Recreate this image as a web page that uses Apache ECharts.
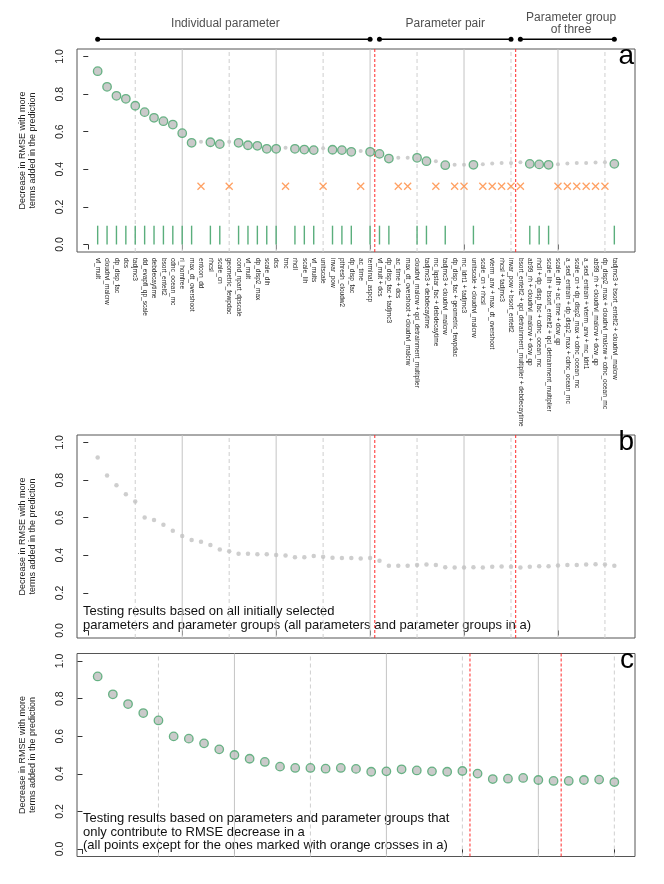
<!DOCTYPE html>
<html><head><meta charset="utf-8">
<script src="https://cdn.jsdelivr.net/npm/echarts@6/dist/echarts.min.js"></script>
<style>html,body{margin:0;padding:0;background:#fff}#c{width:664px;height:884px}</style>
</head><body><div id="c"></div>
<script>
// ---------- data ----------
const namesA = [
 'vf_mult','cloudrvl_malcrw','dp_disp_fac','dcs','tadjmc3','dd_evapfl_qp_scale','debdecaytime','bsort_entelt2','cdnc_ocean_mc','ri_homfree',
 'max_dt_overshoot','entcon_dd','rhcsl','scale_cn','geometric_fewpdac','cond_npart_dpscale','vf_mult','dp_disp2_max','scale_dih','dcs',
 'tmc','rhcll','scale_lih','vf_mults','unitscale','invar_pow','pthresh_cloudw2','dp_disp_fac','ac_time','terminal_aspcp',
 'vf_mult + dcs','dp_disp_fac + tadjmc3','ac_time + dcs','max_dt_overshoot + cloudrvl_malcrw','cloudrvl_malcrw + qci_detrainment_multiplier',
 'tadjmc3 + debdecaytime','mc_lqstar_fac + debdecaytime','tadjmc3 + cloudrvl_malcrw','dp_disp_fac + geometric_fewpdac','mc_ldrt1 + tadjmc3',
 'unitscale + cloudrvl_malcrw','scale_cn + rhcsl','vterm_anv + max_dt_overshoot','rhcsl + tadjmc3','invar_pow + bsort_entelt2',
 'bsort_entelt2 + qci_detrainment_multiplier + debdecaytime','ab99_rh + cloudrvl_malcrw + dcw_qp','rhcll + dp_disp_fac + cdnc_ocean_mc',
 'scale_lih + bsort_entelt2 + qci_detrainment_multiplier','scale_dih + ac_time + dcw_qp','a_sed_entrain + dp_disp2_max + cdnc_ocean_mc',
 'scale_cn + dp_disp2_max + cdnc_ocean_mc','a_sed_entrain + vterm_anv + mc_ldrt1','ab99_rh + cloudrvl_malcrw + dcw_qp',
 'dp_disp2_max + cloudrvl_malcrw + cdnc_ocean_mc','tadjmc3 + bsort_entelt2 + cloudrvl_malcrw'
];
const valsA = [0.922,0.839,0.791,0.775,0.738,0.704,0.674,0.656,0.638,0.592,
 0.541,0.546,0.544,0.534,0.546,0.541,0.528,0.525,0.509,0.509,
 0.514,0.509,0.505,0.502,0.512,0.504,0.502,0.493,0.498,0.493,
 0.482,0.457,0.461,0.461,0.461,0.443,0.443,0.422,0.424,0.424,
 0.424,0.427,0.431,0.433,0.434,0.438,0.429,0.426,0.424,0.427,
 0.431,0.433,0.434,0.436,0.438,0.429];
const crossA = [12,15,21,25,29,33,34,37,39,40,42,43,44,45,46,50,51,52,53,54,55];
const crossLevel = 0.31;
const barLevel = 0.1;
const valsB = [0.920,0.825,0.772,0.725,0.686,0.601,0.588,0.563,0.531,0.503,
 0.481,0.472,0.455,0.431,0.421,0.408,0.408,0.406,0.406,0.401,
 0.399,0.389,0.389,0.396,0.392,0.387,0.385,0.385,0.383,0.385,
 0.371,0.344,0.344,0.344,0.348,0.351,0.349,0.337,0.335,0.335,
 0.337,0.335,0.339,0.340,0.339,0.335,0.339,0.342,0.342,0.346,
 0.348,0.349,0.351,0.353,0.351,0.344];
const valsC = [0.918,0.823,0.771,0.723,0.684,0.599,0.587,0.562,0.530,0.500,
 0.480,0.463,0.438,0.431,0.431,0.427,0.431,0.426,0.411,0.413,
 0.424,0.418,0.413,0.411,0.415,0.401,0.372,0.374,0.378,0.367,
 0.362,0.362,0.367,0.369,0.356];
const groupNames = ['Individual parameter','Parameter pair','Parameter group\nof three'];
const groupStart = [1,31,46];
const groupEnd = [30,45,56];
const groupLabelX = [14.6,38,51.4];
const yTicks = [0,0.2,0.4,0.6,0.8,1.0];
const xTicksAB = [0,10,20,30,40,50];
const xTicksC = [0,5,10,15,20,25,30,35];
const solidAB = [10,20,30,40,50], dashedAB = [5,15,25,35,45,55], redAB = [30.5,45.5];
const solidC = [10,20,30], dashedC = [5,15,25,35], redC = [25.5,31.5];
const textB = 'Testing results based on all initially selected\nparameters and parameter groups (all parameters and parameter groups in a)';
const textC = 'Testing results based on parameters and parameter groups that\nonly contribute to RMSE decrease in a\n(all points except for the ones marked with orange crosses in a)';
const yTitle = 'Decrease in RMSE with more\nterms added in the prediction';

// ---------- styling / building ----------
const FONT = '"Liberation Sans", Arial, Helvetica, sans-serif';
const GREEN = '#47a56b', GRAYFILL = '#bdbdbd', ORANGE = '#ff8a3d';
const YMIN = -0.04, YMAX = 1.04;
const idxA = namesA.map((_, i) => i + 1);
const isCross = i => crossA.indexOf(i) >= 0;

const STY = {
  dashed: {color: '#cfcfcf', type: [4, 3], width: 1},
  solid: {color: '#c4c4c4', type: 'solid', width: 1},
  red: {color: '#ff2a2a', type: [3, 2], width: 1}
};
// vertical reference lines drawn as broken line series through the axis range
function vSeries(ax, values, kind, z) {
  const d = [];
  values.forEach(v => { d.push([v, YMIN], [v, YMAX], [v, '-']); });
  return {type: 'line', xAxisIndex: ax, yAxisIndex: ax, data: d, z: z, silent: true,
    showSymbol: false, symbol: 'none', connectNulls: false,
    lineStyle: STY[kind], itemStyle: {color: STY[kind].color}, emphasis: {disabled: true}};
}
const grids = [
  {left: 77, width: 558, top: 49, height: 203},
  {left: 77, width: 558, top: 435, height: 203},
  {left: 77, width: 558, top: 653.5, height: 203},
  {left: 77, width: 558, top: 0, height: 49}
].map((g, i) => Object.assign({show: i < 3, borderColor: '#555', borderWidth: 1, backgroundColor: 'transparent'}, g));

function xAx(gi, min, max, ticks, labels) {
  return {type: 'value', gridIndex: gi, min: min, max: max, axisLine: {show: false}, splitLine: {show: false},
    axisTick: {show: true, customValues: ticks, length: 5, lineStyle: {color: '#333'}},
    axisLabel: labels ? {show: true, customValues: idxA, formatter: v => namesA[Math.round(v) - 1] || '',
      rotate: -90, fontSize: 6.5, fontFamily: FONT, color: '#222', margin: 6, hideOverlap: false} : {show: false}};
}
function yAx(gi) {
  return {type: 'value', gridIndex: gi, min: YMIN, max: YMAX, axisLine: {show: false}, splitLine: {show: false},
    axisTick: {show: true, customValues: yTicks, length: 5, lineStyle: {color: '#333'}},
    axisLabel: {show: true, customValues: yTicks, formatter: v => v.toFixed(1), rotate: 90, fontSize: 10.5,
      fontFamily: FONT, color: '#222', margin: 11},
    name: yTitle, nameLocation: 'middle', nameGap: 39, nameRotate: 90,
    nameTextStyle: {fontSize: 9, fontFamily: FONT, color: '#222', lineHeight: 10}};
}

const series = [];
[[0, solidAB, dashedAB, redAB], [1, solidAB, dashedAB, redAB], [2, solidC, dashedC, redC]].forEach(p => {
  series.push(vSeries(p[0], p[2], 'dashed', 1));
  series.push(vSeries(p[0], p[1], 'solid', 1));
  series.push(vSeries(p[0], p[3], 'red', 2));
});
series.push(
  {type: 'bar', xAxisIndex: 0, yAxisIndex: 0, barWidth: 1.4, z: 2,
    itemStyle: {color: '#5aae7c'},
    data: idxA.filter(i => !isCross(i)).map(i => [i, barLevel])},
  {type: 'scatter', xAxisIndex: 0, yAxisIndex: 0, z: 3, symbol: 'path://M0,0L10,10M10,0L0,10', symbolSize: 7,
    itemStyle: {color: 'rgba(0,0,0,0)', borderColor: ORANGE, borderWidth: 1.3},
    data: crossA.map(i => [i, crossLevel])},
  {type: 'scatter', xAxisIndex: 0, yAxisIndex: 0, z: 3, symbol: 'circle', symbolSize: 4,
    itemStyle: {color: '#c2c2c2'},
    data: idxA.filter(isCross).map(i => [i, valsA[i - 1]])},
  {type: 'scatter', xAxisIndex: 0, yAxisIndex: 0, z: 4, symbol: 'circle', symbolSize: 8.5,
    itemStyle: {color: GRAYFILL, borderColor: GREEN, borderWidth: 1.3},
    data: idxA.filter(i => !isCross(i)).map(i => [i, valsA[i - 1]])},
  {type: 'scatter', xAxisIndex: 1, yAxisIndex: 1, z: 3, symbol: 'circle', symbolSize: 4.5,
    itemStyle: {color: '#c2c2c2'},
    data: valsB.map((v, i) => [i + 1, v])},
  {type: 'scatter', xAxisIndex: 2, yAxisIndex: 2, z: 3, symbol: 'circle', symbolSize: 8.5,
    itemStyle: {color: GRAYFILL, borderColor: GREEN, borderWidth: 1.3},
    data: valsC.map((v, i) => [i + 1, v])}
);
groupNames.forEach((nm, k) => {
  series.push({type: 'line', xAxisIndex: 3, yAxisIndex: 3, z: 3, symbol: 'circle', symbolSize: 5,
    itemStyle: {color: '#000'}, lineStyle: {color: '#000', width: 1.4}, clip: false,
    data: [[groupStart[k], 0.2], [groupEnd[k], 0.2]]});
  series.push({type: 'scatter', xAxisIndex: 3, yAxisIndex: 3, symbolSize: 1, itemStyle: {color: 'rgba(0,0,0,0)'},
    clip: false,
    label: {show: true, position: 'inside', formatter: nm, fontSize: 12, lineHeight: 12, fontFamily: FONT, color: '#222', align: 'center'},
    data: [[groupLabelX[k], 0.51]]});
});

const chart = echarts.init(document.getElementById('c'), null, {renderer: 'canvas'});
chart.setOption({
  animation: false,
  backgroundColor: '#fff',
  grid: grids,
  xAxis: [xAx(0, -1.2, 58.2, xTicksAB, true), xAx(1, -1.2, 58.2, xTicksAB, false), xAx(2, -0.36, 36.36, xTicksC, false),
    {type: 'value', gridIndex: 3, min: -1.2, max: 58.2, show: false}],
  yAxis: [yAx(0), yAx(1), yAx(2), {type: 'value', gridIndex: 3, min: 0, max: 1, show: false}],
  series: series,
  graphic: [
    {type: 'text', right: 30, top: 42, style: {text: 'a', fontSize: 28, fontFamily: FONT, fill: '#000'}},
    {type: 'text', right: 30, top: 428, style: {text: 'b', fontSize: 28, fontFamily: FONT, fill: '#000'}},
    {type: 'text', right: 30, top: 646, style: {text: 'c', fontSize: 28, fontFamily: FONT, fill: '#000'}},
    {type: 'text', left: 83, top: 604, style: {text: textB, fontSize: 13, lineHeight: 14.5, fontFamily: FONT, fill: '#111'}},
    {type: 'text', left: 83, top: 812, style: {text: textC, fontSize: 13, lineHeight: 13.5, fontFamily: FONT, fill: '#111'}}
  ]
});
</script></body></html>
